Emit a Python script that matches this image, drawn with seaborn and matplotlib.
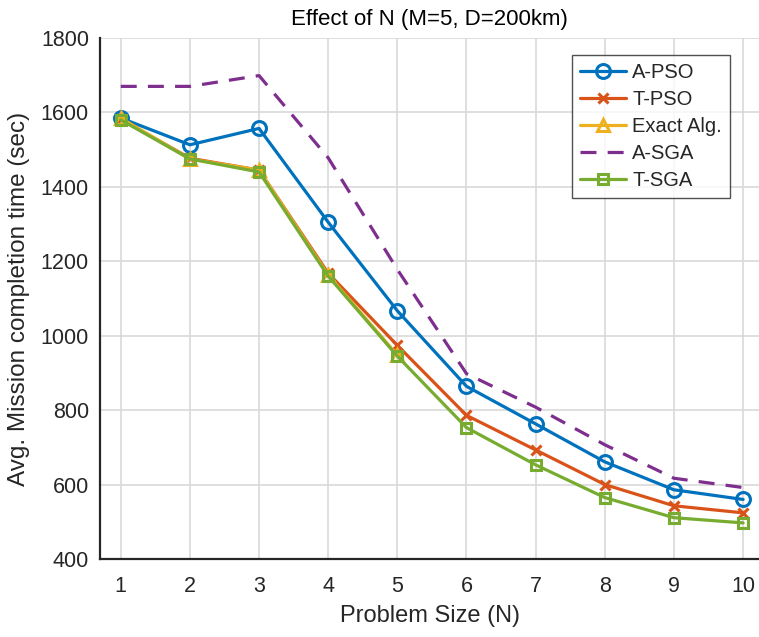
import matplotlib
matplotlib.use("Agg")
import matplotlib.pyplot as plt
import seaborn as sns
import numpy as np
import pandas as pd

N = [1, 2, 3, 4, 5, 6, 7, 8, 9, 10]
a_pso = [1585, 1513, 1557, 1305, 1067, 864, 763, 661, 586, 560]
t_pso = [1582, 1477, 1445, 1168, 974, 786, 693, 600, 543, 524]
exact = [1585, 1475, 1445, 1163, 948, np.nan, np.nan, np.nan, np.nan, np.nan]
a_sga = [1670, 1670, 1699, 1478, 1178, 898, 808, 707, 617, 592]
t_sga = [1580, 1475, 1440, 1160, 945, 753, 653, 565, 511, 497]

names = ["A-PSO", "T-PSO", "Exact Alg.", "A-SGA", "T-SGA"]
colors = ["#0072BD", "#D95319", "#EDB120", "#7E2F8E", "#77AC30"]
markers = ["o", "x", "^", None, "s"]
msizes = [10, 7, 9, 0, 7]

sns.set_theme(style="white")
plt.rcParams['font.family'] = ['Liberation Sans', 'DejaVu Sans']

fig = plt.figure(figsize=(7.59, 6.37), dpi=100)
ax = fig.add_axes([100/759, 78/637, 1 - 100/759, (559-38)/637])

series = [a_pso, t_pso, exact, a_sga, t_sga]
for i, (nm, vals) in enumerate(zip(names, series)):
    df = pd.DataFrame({"N": N, "val": vals})
    kw = dict(color=colors[i], linewidth=2.3, label=nm, zorder=3 + i)
    if markers[i] is None:
        sns.lineplot(data=df, x="N", y="val", ax=ax, **kw)
        ax.lines[-1].set_dashes([5, 3.5])
    else:
        sns.lineplot(data=df, x="N", y="val", ax=ax, marker=markers[i],
                     markersize=msizes[i], markerfacecolor="none",
                     markeredgecolor=colors[i], markeredgewidth=2.2, **kw)

ax.set_xlim(0.7, 10.23)
ax.set_ylim(400, 1800)
ax.set_xticks(N)
ax.set_yticks(range(400, 1801, 200))
ax.grid(True, color="#d9d9d9", linewidth=1.2)
ax.set_axisbelow(True)
for s in ["top", "right"]:
    ax.spines[s].set_visible(False)
for s in ["left", "bottom"]:
    ax.spines[s].set_color("#262626")
    ax.spines[s].set_linewidth(1.6)
ax.tick_params(axis="both", direction="in", length=7, width=1.6,
               colors="#262626", labelsize=15.5)
ax.tick_params(axis="x", pad=12)
ax.tick_params(axis="y", pad=8)
ax.set_xlabel("Problem Size (N)", fontsize=17, color="#262626", labelpad=6)
ax.set_ylabel("Avg. Mission completion time (sec)", fontsize=17.5, color="#262626", labelpad=8)
ax.set_title("Effect of N (M=5, D=200km)", fontsize=16, color="#000000", pad=9)

leg = ax.legend(loc="upper right", bbox_to_anchor=((730-100)/659, (559-55)/521),
                bbox_transform=ax.transAxes, fontsize=14.5,
                frameon=True, fancybox=False, edgecolor="#262626",
                handlelength=2.3, handletextpad=0.3, borderpad=0.4, labelspacing=0.4,
                borderaxespad=0)
leg.get_frame().set_linewidth(1.0)

fig.savefig("out.png", dpi=100)
